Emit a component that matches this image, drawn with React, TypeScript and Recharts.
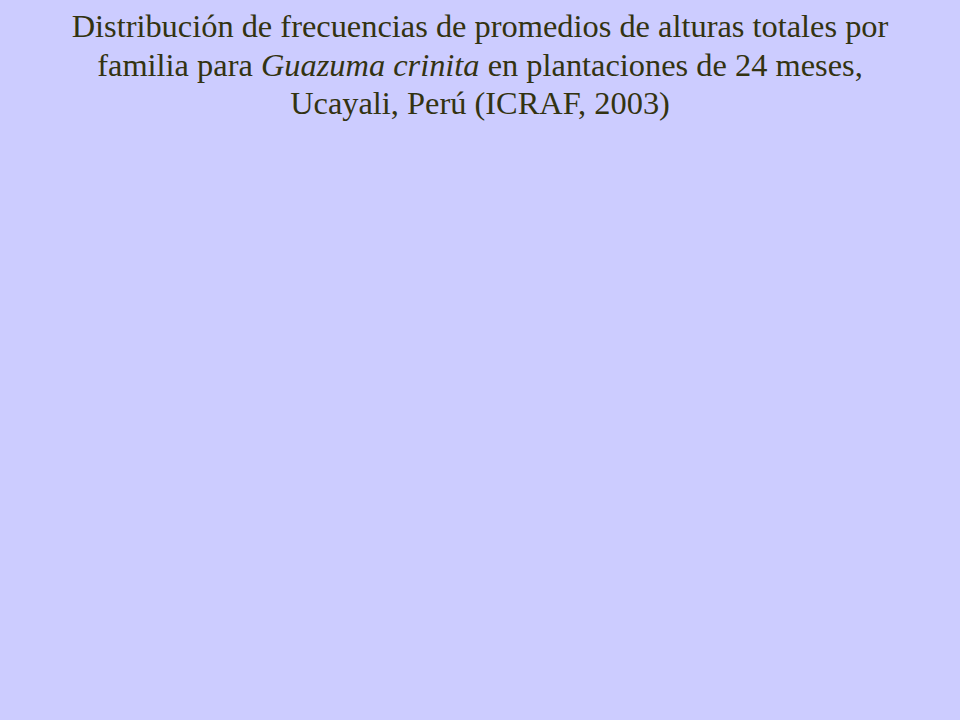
import React from "react";
import { BarChart, Bar } from "recharts";

// the slide shows only its title; no bars were drawn in the plot area
const categories: string[] = [];
const frequencies: number[] = [];

const titleLine1 = "Distribución de frecuencias de promedios de alturas totales por";
const titleLine2a = "familia para ";
const titleItalic = "Guazuma crinita";
const titleLine2b = " en plantaciones de 24 meses,";
const titleLine3 = "Ucayali, Perú (ICRAF, 2003)";

export default function App() {
  const data = categories.map((c, i) => ({ clase: c, frecuencia: frequencies[i] }));

  return (
    <div
      style={{
        position: "absolute",
        left: 0,
        top: 0,
        width: 960,
        height: 720,
        background: "#ccccff",
        fontFamily: '"Liberation Serif", "Times New Roman", serif',
        color: "#333311",
        overflow: "hidden",
      }}
    >
      <div style={{ textAlign: "center", fontSize: 32.4, lineHeight: "38.5px", paddingTop: 7 }}>
        <div>{titleLine1}</div>
        <div>
          {titleLine2a}
          <i>{titleItalic}</i>
          {titleLine2b}
        </div>
        <div>{titleLine3}</div>
      </div>
      <BarChart width={960} height={560} data={data}>
        <Bar dataKey="frecuencia" fill="#333399" isAnimationActive={false} />
      </BarChart>
    </div>
  );
}
